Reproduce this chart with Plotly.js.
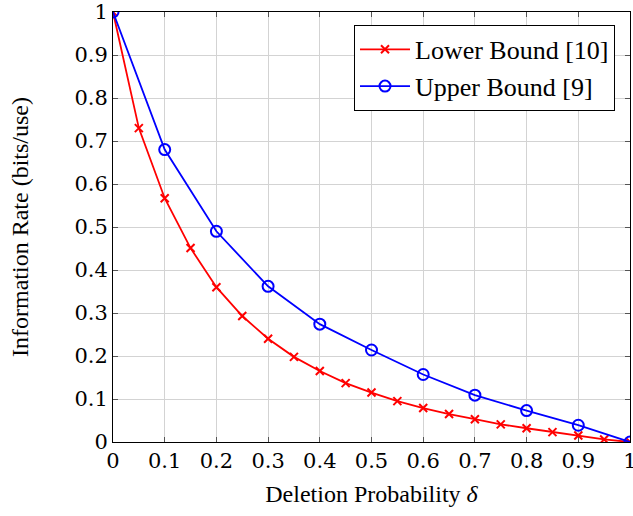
<!DOCTYPE html>
<html>
<head>
<meta charset="utf-8">
<script src="https://cdn.plot.ly/plotly-3.0.1.min.js"></script>
<style>html,body{margin:0;padding:0;background:#fff}</style>
</head>
<body>
<div id="chart" style="width:633px;height:516px"></div>
<script>
const lowerX = [0,0.05,0.1,0.15,0.2,0.25,0.3,0.35,0.4,0.45,0.5,0.55,0.6,0.65,0.7,0.75,0.8,0.85,0.9,0.95,1];
const lowerY = [1,0.730,0.567,0.451,0.360,0.293,0.240,0.198,0.165,0.137,0.115,0.095,0.079,0.065,0.053,0.041,0.032,0.023,0.015,0.006,0];
const upperX = [0,0.1,0.2,0.3,0.4,0.5,0.6,0.7,0.8,0.9,1];
const upperY = [1,0.680,0.490,0.362,0.274,0.214,0.157,0.109,0.073,0.039,0];
const tickVals = [0,0.1,0.2,0.3,0.4,0.5,0.6,0.7,0.8,0.9,1];
const tickText = ['0','0.1','0.2','0.3','0.4','0.5','0.6','0.7','0.8','0.9','1'];
const serif = 'Liberation Serif';
const tickSerif = 'DejaVu Serif';

const traces = [
  {x: lowerX, y: lowerY, name: 'Lower Bound [10]', mode: 'lines+markers',
   line: {color: '#ff0000', width: 1.8},
   marker: {symbol: 'x-thin', size: 8, color: '#ff0000', line: {color: '#ff0000', width: 2}}},
  {x: upperX, y: upperY, name: 'Upper Bound [9]', mode: 'lines+markers',
   line: {color: '#0000ff', width: 1.8},
   marker: {symbol: 'circle-open', size: 11, color: '#0000ff', line: {color: '#0000ff', width: 2}}}
];

const axisCommon = {
  showgrid: true, gridcolor: '#d3d3d3', gridwidth: 1,
  showline: true, linecolor: '#000', linewidth: 1, mirror: 'allticks',
  ticks: 'inside', ticklen: 5, tickcolor: '#555',
  zeroline: false, tickfont: {family: tickSerif, size: 21, color: '#000'},
  tickvals: tickVals, ticktext: tickText, ticklabeloverflow: 'allow'
};

const layout = {
  width: 633, height: 516,
  margin: {l: 113, r: 3, t: 12, b: 74},
  paper_bgcolor: '#fff', plot_bgcolor: '#fff',
  font: {family: serif, color: '#000'},
  showlegend: true,
  legend: {x: 0.971, y: 0.97, xanchor: 'right', yanchor: 'top',
           bordercolor: '#000', borderwidth: 1, bgcolor: '#fff',
           font: {family: serif, size: 26, color: '#000'},
           itemwidth: 50, tracegroupgap: 0},
  xaxis: Object.assign({}, axisCommon, {range: [0, 1],
     title: {text: 'Deletion Probability <i>δ</i>', font: {family: serif, size: 24}, standoff: 12}}),
  yaxis: Object.assign({}, axisCommon, {range: [0, 1],
     title: {text: 'Information Rate (bits/use)', font: {family: serif, size: 24}, standoff: 38}})
};

Plotly.newPlot('chart', traces, layout, {displayModeBar: false, staticPlot: true});
</script>
</body>
</html>
